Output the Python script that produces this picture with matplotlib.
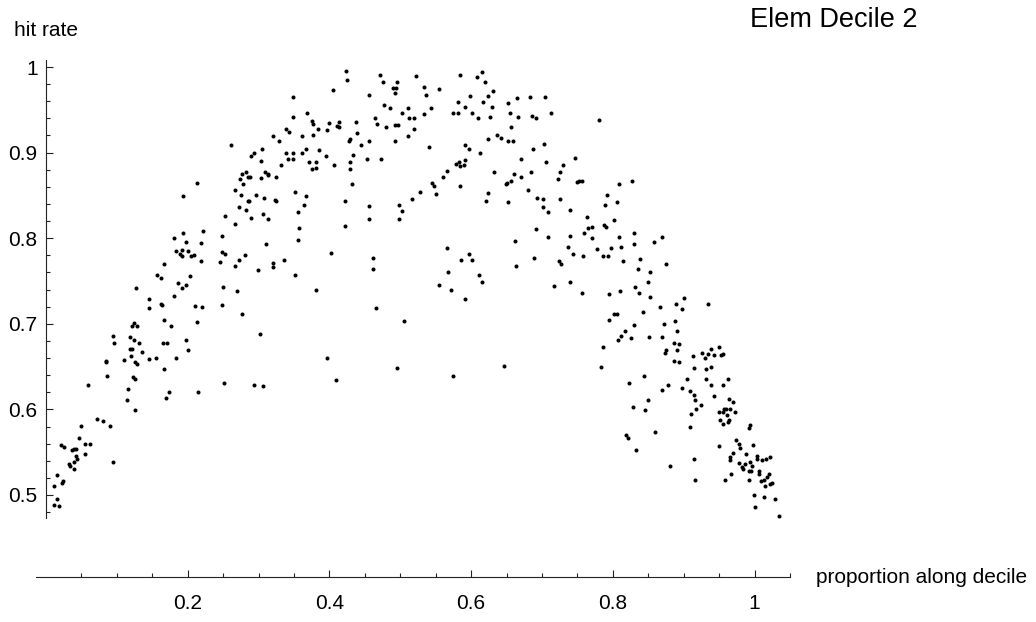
import numpy as np
import matplotlib
matplotlib.use("Agg")
import matplotlib.pyplot as plt

plt.rcParams['font.family'] = ['Liberation Sans', 'DejaVu Sans']

# rising flank of the decile (x = proportion along decile, y = hit rate)
rise_x = [0.348, 0.348, 0.339, 0.343, 0.321, 0.329, 0.261, 0.305, 0.294, 0.339, 0.349, 0.290, 0.341, 0.348,
          0.304, 0.331, 0.276, 0.282, 0.309, 0.314, 0.313, 0.285, 0.288, 0.274, 0.304, 0.325, 0.278, 0.213,
          0.267, 0.275, 0.351, 0.193, 0.297, 0.308, 0.285, 0.287, 0.323, 0.324,
          0.273, 0.282, 0.253, 0.289, 0.306, 0.314, 0.267, 0.193, 0.221, 0.248, 0.180, 0.198, 0.219, 0.311,
          0.184, 0.192, 0.200, 0.189, 0.192, 0.204, 0.209, 0.249, 0.253, 0.281, 0.219, 0.246, 0.272, 0.267,
          0.336, 0.320, 0.320, 0.167, 0.299, 0.352, 0.157, 0.163, 0.203, 0.186, 0.198, 0.192, 0.127, 0.250,
          0.270, 0.180, 0.145, 0.163, 0.164, 0.146, 0.210, 0.220, 0.248, 0.277, 0.166, 0.213, 0.124, 0.122,
          0.128, 0.176, 0.094, 0.118, 0.302, 0.096, 0.124, 0.131, 0.165, 0.171, 0.197,
          0.118, 0.121, 0.135, 0.200, 0.120, 0.145, 0.155, 0.184, 0.110, 0.085, 0.085, 0.126, 0.128, 0.167,
          0.086, 0.123, 0.125, 0.059, 0.116, 0.251, 0.294, 0.306, 0.173, 0.215, 0.169, 0.115, 0.126, 0.072,
          0.080, 0.050, 0.091, 0.046, 0.021, 0.026, 0.055, 0.062, 0.037, 0.040, 0.043, 0.055, 0.042, 0.044,
          0.094, 0.039, 0.033, 0.034, 0.039, 0.015, 0.024, 0.022, 0.012, 0.015, 0.011, 0.018]
rise_y = [0.965, 0.942, 0.928, 0.924, 0.919, 0.913, 0.909, 0.904, 0.899, 0.899, 0.899, 0.896, 0.892, 0.892,
          0.890, 0.886, 0.875, 0.877, 0.877, 0.875, 0.874, 0.872, 0.872, 0.869, 0.870, 0.871, 0.863, 0.864,
          0.856, 0.851, 0.854, 0.849, 0.851, 0.847, 0.844, 0.843, 0.845, 0.844,
          0.837, 0.833, 0.826, 0.824, 0.828, 0.822, 0.817, 0.806, 0.808, 0.803, 0.800, 0.795, 0.794, 0.793,
          0.785, 0.786, 0.785, 0.782, 0.779, 0.779, 0.780, 0.784, 0.782, 0.780, 0.773, 0.772, 0.774, 0.768,
          0.774, 0.771, 0.766, 0.770, 0.763, 0.757, 0.757, 0.754, 0.756, 0.748, 0.745, 0.742, 0.742, 0.743,
          0.738, 0.733, 0.729, 0.723, 0.722, 0.719, 0.721, 0.720, 0.722, 0.711, 0.704, 0.702, 0.701, 0.697,
          0.697, 0.697, 0.686, 0.685, 0.688, 0.678, 0.681, 0.678, 0.678, 0.678, 0.681,
          0.671, 0.670, 0.667, 0.669, 0.662, 0.659, 0.660, 0.660, 0.658, 0.657, 0.655, 0.655, 0.653, 0.647,
          0.639, 0.638, 0.635, 0.629, 0.624, 0.631, 0.629, 0.627, 0.620, 0.620, 0.613, 0.611, 0.599, 0.589,
          0.586, 0.581, 0.581, 0.567, 0.558, 0.556, 0.560, 0.560, 0.553, 0.554, 0.554, 0.548, 0.546, 0.542,
          0.539, 0.539, 0.536, 0.534, 0.530, 0.523, 0.516, 0.514, 0.511, 0.495, 0.488, 0.487]

# crest
crest_x = [0.424, 0.425, 0.471, 0.475, 0.496, 0.522, 0.585, 0.615, 0.608, 0.620, 0.490, 0.494, 0.493, 0.533,
           0.555, 0.405, 0.456, 0.537, 0.599, 0.624, 0.631, 0.665, 0.683, 0.617, 0.582, 0.652, 0.477, 0.485,
           0.511, 0.543, 0.592, 0.629, 0.368, 0.502, 0.533, 0.575, 0.581, 0.601, 0.655, 0.464, 0.512, 0.520,
           0.610, 0.627, 0.666, 0.686, 0.691, 0.376, 0.377, 0.400, 0.413, 0.411, 0.414, 0.437, 0.467, 0.384,
           0.396, 0.480, 0.492, 0.497, 0.520, 0.656, 0.439, 0.362, 0.377, 0.511, 0.636, 0.642, 0.429, 0.427,
           0.456, 0.493, 0.624, 0.652, 0.659, 0.444, 0.540, 0.592, 0.597, 0.703, 0.362, 0.367, 0.385, 0.395,
           0.434, 0.613, 0.687, 0.371, 0.381, 0.376, 0.381, 0.406, 0.429, 0.429, 0.453, 0.473, 0.579, 0.583,
           0.584, 0.590, 0.592, 0.671, 0.706, 0.566, 0.561, 0.633, 0.660, 0.671, 0.685, 0.432, 0.545, 0.547,
           0.584, 0.649, 0.651, 0.656, 0.528, 0.551, 0.624, 0.681, 0.367, 0.693, 0.701, 0.422, 0.516, 0.621,
           0.652, 0.364, 0.498, 0.456, 0.356, 0.503, 0.701, 0.456, 0.498, 0.422, 0.357, 0.691, 0.356, 0.662,
           0.566, 0.402, 0.597, 0.461, 0.586, 0.601, 0.689, 0.664, 0.462, 0.568, 0.611, 0.616, 0.555, 0.381,
           0.572, 0.592, 0.466, 0.506, 0.396, 0.409, 0.496, 0.574, 0.646]
crest_y = [0.995, 0.985, 0.991, 0.983, 0.983, 0.990, 0.991, 0.994, 0.988, 0.983, 0.976, 0.976, 0.970, 0.977,
           0.974, 0.973, 0.967, 0.967, 0.966, 0.966, 0.972, 0.964, 0.965, 0.959, 0.959, 0.958, 0.956, 0.952,
           0.952, 0.952, 0.953, 0.953, 0.946, 0.946, 0.945, 0.946, 0.946, 0.946, 0.946, 0.941, 0.940, 0.940,
           0.940, 0.942, 0.942, 0.943, 0.941, 0.937, 0.934, 0.935, 0.936, 0.931, 0.930, 0.936, 0.934, 0.928,
           0.926, 0.930, 0.932, 0.932, 0.928, 0.930, 0.923, 0.919, 0.921, 0.919, 0.921, 0.917, 0.916, 0.913,
           0.913, 0.913, 0.916, 0.913, 0.913, 0.909, 0.907, 0.909, 0.904, 0.910, 0.899, 0.904, 0.903, 0.896,
           0.897, 0.900, 0.904, 0.889, 0.889, 0.881, 0.882, 0.886, 0.889, 0.881, 0.893, 0.892, 0.887, 0.889,
           0.884, 0.886, 0.891, 0.893, 0.889, 0.878, 0.872, 0.877, 0.875, 0.872, 0.877, 0.863, 0.865, 0.861,
           0.861, 0.863, 0.864, 0.867, 0.854, 0.852, 0.853, 0.856, 0.849, 0.847, 0.846, 0.844, 0.846, 0.844,
           0.842, 0.839, 0.839, 0.838, 0.831, 0.832, 0.837, 0.823, 0.823, 0.814, 0.812, 0.811, 0.798, 0.797,
           0.788, 0.783, 0.782, 0.777, 0.775, 0.774, 0.777, 0.768, 0.764, 0.761, 0.757, 0.749, 0.745, 0.740,
           0.739, 0.729, 0.719, 0.703, 0.660, 0.634, 0.648, 0.639, 0.651]

# falling flank
fall_x = [0.705, 0.713, 0.781, 0.747, 0.730, 0.726, 0.722, 0.750, 0.752, 0.757, 0.809, 0.827, 0.792, 0.725,
          0.789, 0.806, 0.708, 0.739, 0.764, 0.802, 0.765, 0.771, 0.788, 0.790, 0.760, 0.830, 0.708, 0.739,
          0.771, 0.809, 0.869, 0.858, 0.830, 0.737, 0.811, 0.777, 0.798, 0.744, 0.758, 0.786, 0.793, 0.838,
          0.724, 0.727, 0.814, 0.875, 0.835, 0.852, 0.739, 0.849, 0.717, 0.831, 0.756, 0.810, 0.837, 0.794,
          0.853, 0.900, 0.889, 0.935, 0.867, 0.897, 0.842, 0.801, 0.806, 0.794, 0.888, 0.830, 0.872, 0.817,
          0.891, 0.812, 0.851, 0.869, 0.807, 0.826, 0.886, 0.894, 0.786, 0.875, 0.873, 0.891, 0.938, 0.950,
          0.926, 0.935, 0.943, 0.953, 0.956, 0.913, 0.930, 0.784, 0.886, 0.893, 0.915, 0.931, 0.939, 0.844,
          0.823, 0.878, 0.905, 0.931, 0.962, 0.939, 0.955, 0.870, 0.897, 0.909, 0.914, 0.943, 0.850, 0.916,
          0.964, 0.970, 0.924, 0.829, 0.845, 0.917, 0.957, 0.960, 0.965, 0.950, 0.955, 0.973, 0.910, 0.961,
          0.951, 0.964, 0.963, 0.955, 0.994, 0.992, 0.909, 0.860, 0.819, 0.821, 0.974, 0.978, 0.998, 0.950,
          0.979, 0.833, 0.969, 0.988, 0.965, 0.966, 1.004, 1.003, 1.010, 1.016, 1.022, 0.915, 0.978, 0.993,
          0.983, 0.987, 0.997, 0.984, 0.992, 0.995, 1.007, 0.881, 0.967, 1.006, 1.021, 1.017, 1.013, 1.009,
          0.992, 0.958, 0.916, 1.022, 1.025, 1.015, 0.999, 1.013, 1.029, 1.000, 1.035]
fall_y = [0.965, 0.946, 0.938, 0.894, 0.886, 0.877, 0.869, 0.866, 0.867, 0.867, 0.863, 0.867, 0.851, 0.846,
          0.839, 0.842, 0.831, 0.833, 0.825, 0.821, 0.812, 0.813, 0.815, 0.813, 0.806, 0.806, 0.801, 0.803,
          0.800, 0.801, 0.801, 0.795, 0.793, 0.790, 0.790, 0.787, 0.788, 0.782, 0.779, 0.779, 0.779, 0.776,
          0.773, 0.770, 0.773, 0.770, 0.764, 0.760, 0.749, 0.749, 0.744, 0.743, 0.736, 0.738, 0.736, 0.735,
          0.731, 0.730, 0.723, 0.723, 0.720, 0.717, 0.714, 0.711, 0.712, 0.704, 0.703, 0.699, 0.700, 0.692,
          0.692, 0.686, 0.685, 0.685, 0.681, 0.683, 0.677, 0.676, 0.673, 0.669, 0.666, 0.669, 0.671, 0.673,
          0.666, 0.665, 0.663, 0.664, 0.665, 0.662, 0.660, 0.650, 0.657, 0.655, 0.648, 0.647, 0.650, 0.639,
          0.631, 0.629, 0.635, 0.635, 0.635, 0.628, 0.629, 0.623, 0.625, 0.622, 0.617, 0.616, 0.611, 0.611,
          0.612, 0.609, 0.605, 0.603, 0.599, 0.600, 0.601, 0.601, 0.601, 0.597, 0.597, 0.597, 0.595, 0.594,
          0.588, 0.588, 0.585, 0.583, 0.582, 0.578, 0.579, 0.574, 0.570, 0.567, 0.564, 0.560, 0.558, 0.557,
          0.555, 0.552, 0.549, 0.548, 0.544, 0.541, 0.545, 0.542, 0.541, 0.542, 0.544, 0.542, 0.537, 0.539,
          0.533, 0.536, 0.534, 0.530, 0.528, 0.528, 0.528, 0.534, 0.525, 0.524, 0.525, 0.521, 0.518, 0.516,
          0.517, 0.517, 0.517, 0.513, 0.514, 0.511, 0.500, 0.498, 0.495, 0.486, 0.476]

x_major = [0.2, 0.4, 0.6, 0.8, 1.0]
x_labels = ['0.2', '0.4', '0.6', '0.8', '1']
y_major = [0.5, 0.6, 0.7, 0.8, 0.9, 1.0]
y_labels = ['0.5', '0.6', '0.7', '0.8', '0.9', '1']

fig = plt.figure(figsize=(10.36, 6.22), dpi=100)
ax = fig.add_axes([0, 0, 1, 1])
ax.set_xlim(-0.0649, 1.3973)
ax.set_ylim(0.3516, 1.0783)

for xs, ys in ((rise_x, rise_y), (crest_x, crest_y), (fall_x, fall_y)):
    ax.plot(xs, ys, 'o', ms=2.9, color='black', mec='none')

# axes cross at (0, 0.404) like a Mathematica plot
for side in ('top', 'right'):
    ax.spines[side].set_visible(False)
ax.spines['left'].set_position(('data', 0))
ax.spines['left'].set_bounds(0.473, 1.008)
ax.spines['bottom'].set_position(('data', 0.404))
ax.spines['bottom'].set_bounds(-0.0145, 1.05)
for side in ('left', 'bottom'):
    ax.spines[side].set_linewidth(0.8)
    ax.spines[side].set_color('#222222')

ax.set_xticks(x_major)
ax.set_xticklabels(x_labels)
ax.set_xticks([t for t in np.round(np.arange(0.05, 1.06, 0.05), 2) if t not in x_major], minor=True)
ax.set_yticks(y_major)
ax.set_yticklabels(y_labels)
ax.set_yticks([t for t in np.round(np.arange(0.48, 1.001, 0.02), 2) if t not in y_major], minor=True)

ax.tick_params(which='both', direction='in', labelsize=15, color='#222222', width=0.8)
ax.tick_params(which='major', length=5)
ax.tick_params(which='minor', length=3)
ax.tick_params(axis='x', which='major', pad=12)
ax.tick_params(axis='y', which='major', pad=6)

ax.text(0, 1.043, 'hit rate', fontsize=15, ha='center', va='center')
ax.text(1.087, 0.404, 'proportion along decile', fontsize=15, ha='left', va='center')
ax.text(1.112, 1.055, 'Elem Decile 2', fontsize=19.5, ha='center', va='center')

fig.savefig('out.png', dpi=100)
